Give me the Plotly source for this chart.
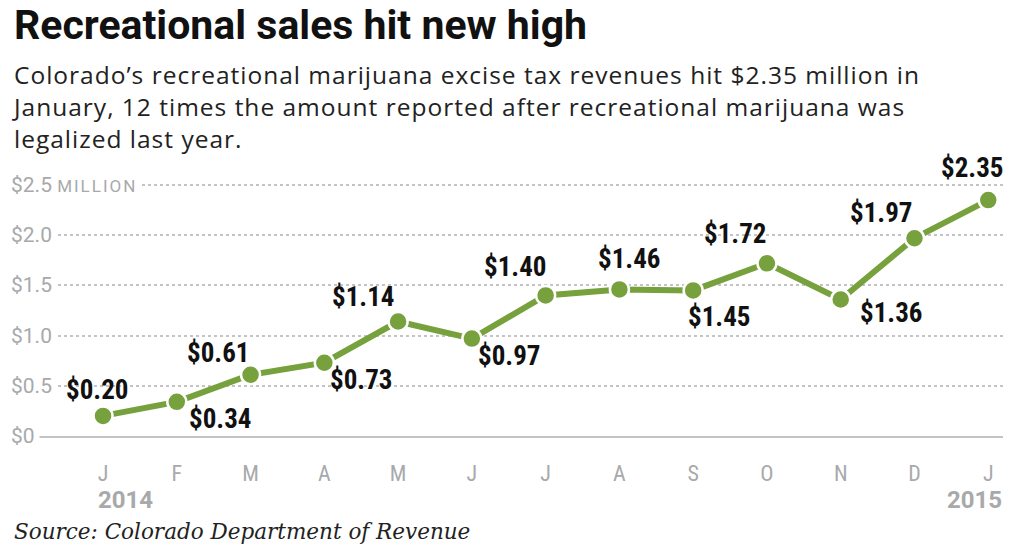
import plotly.graph_objects as go

months = ["J", "F", "M", "A", "M", "J", "J", "A", "S", "O", "N", "D", "J"]
revenue = [0.20, 0.34, 0.61, 0.73, 1.14, 0.97, 1.40, 1.46, 1.45, 1.72, 1.36, 1.97, 2.35]
value_labels = ["$0.20", "$0.34", "$0.61", "$0.73", "$1.14", "$0.97", "$1.40",
                "$1.46", "$1.45", "$1.72", "$1.36", "$1.97", "$2.35"]
y_ticks = [0, 0.5, 1.0, 1.5, 2.0, 2.5]
y_tick_labels = ["$0", "$0.5", "$1.0", "$1.5", "$2.0", "$2.5"]
years = ["2014", "2015"]

# label offsets in pixels (layout only)
label_offsets = [(-6, 26), (43, -17), (-33, 22), (37, -17), (-35, 25), (37, -17), (-31, 28),
                 (10, 30), (26, -27), (-32, 29), (50, -14), (-33, 25), (-16, 32)]

W, H = 1024, 549
ML, MR, MT, MB = 10, 21, 150, 113
PH = H - MT - MB

def py(px):
    return (H - MB - px) / PH

GREEN = "#76a13c"
GRAY = "#a8a9ab"
NARROW = "Liberation Sans Narrow, Roboto Condensed, DejaVu Sans Condensed, Roboto, sans-serif"
SANS = "Roboto, Noto Sans, sans-serif"
WIDE = "Open Sans, Noto Sans, sans-serif"

x = list(range(len(months)))

fig = go.Figure()
fig.add_trace(go.Scatter(
    x=x, y=revenue, mode="lines+markers",
    line=dict(color=GREEN, width=6),
    marker=dict(size=19, color=GREEN, line=dict(color="white", width=2.5)),
    cliponaxis=False, hoverinfo="skip",
))

ann = []
for i, (v, t) in enumerate(zip(revenue, value_labels)):
    dx, dy = label_offsets[i]
    ann.append(dict(x=i, y=v, xref="x", yref="y", text=f"<b>{t}</b>", showarrow=False,
                    xshift=dx, yshift=dy, font=dict(family=NARROW, size=27, color="#111")))

for v, t in zip(y_ticks, y_tick_labels):
    txt = t
    if v == y_ticks[-1]:
        txt = t + " <span style='font-size:17px;letter-spacing:2px'>MILLION</span>"
    ann.append(dict(x=0, y=v, xref="paper", yref="y", text=txt, showarrow=False,
                    xanchor="left", yanchor="middle", bgcolor="white", borderpad=4, xshift=-4,
                    font=dict(family=SANS, size=21, color=GRAY)))

ann.append(dict(x=0, y=py(500), xref="x", yref="paper", text=f"<b>{years[0]}</b>", showarrow=False,
                xanchor="left", yanchor="middle", xshift=-7,
                font=dict(family=SANS, size=24, color=GRAY)))
ann.append(dict(x=len(months) - 1, y=py(500), xref="x", yref="paper", text=f"<b>{years[1]}</b>",
                showarrow=False, xanchor="right", yanchor="middle", xshift=16,
                font=dict(family=SANS, size=24, color=GRAY)))

ann.append(dict(x=0, y=py(25), xref="paper", yref="paper", xshift=2,
                text="<b>Recreational sales hit new high</b>", showarrow=False,
                xanchor="left", yanchor="middle", font=dict(family=SANS, size=41, color="#111")))
subtitle = ["Colorado’s recreational marijuana excise tax revenues hit $2.35 million in",
            "January, 12 times the amount reported after recreational marijuana was",
            "legalized last year."]
sub_text = "<br>".join(f"<span style='letter-spacing:1px'>{s}</span>" for s in subtitle)
ann.append(dict(x=0, y=py(106), xref="paper", yref="paper", xshift=0,
                text=sub_text, showarrow=False, xanchor="left", yanchor="middle", align="left",
                font=dict(family=WIDE, size=24.5, color="#222")))
ann.append(dict(x=0, y=py(531), xref="paper", yref="paper", xshift=2,
                text="<i>Source: Colorado Department of Revenue</i>", showarrow=False,
                xanchor="left", yanchor="middle",
                font=dict(family="DejaVu Serif, Liberation Serif, serif", size=21.5, color="#222")))

fig.update_layout(
    width=W, height=H, margin=dict(l=ML, r=MR, t=MT, b=MB),
    paper_bgcolor="white", plot_bgcolor="white", showlegend=False,
    annotations=ann,
    xaxis=dict(range=[-1.261, 12.2], tickvals=x, ticktext=months, showgrid=False,
               zeroline=False, showline=True, linecolor="#c4c4c4", linewidth=2,
               ticks="outside", ticklen=17, tickcolor="rgba(0,0,0,0)",
               tickfont=dict(family=NARROW, size=22, color=GRAY)),
    yaxis=dict(range=[0, PH / 100.4], tickvals=y_ticks[1:], showticklabels=False,
               showgrid=True, gridcolor="#c4c4c4", griddash="dot", gridwidth=1.5,
               zeroline=False),
)

fig.write_html("out.html")
